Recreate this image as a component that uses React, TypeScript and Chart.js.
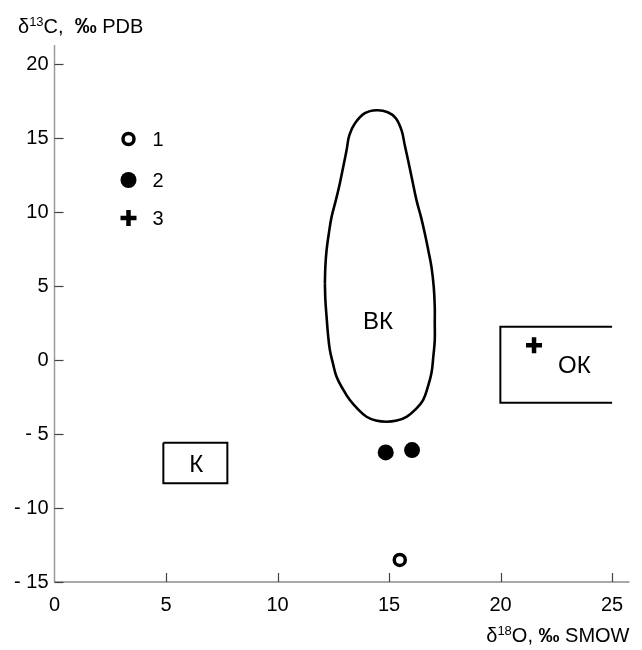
import { useEffect, useRef } from 'react';
import { Chart, registerables } from 'chart.js';

Chart.register(...registerables);

const FONT = '"Liberation Sans", Arial, sans-serif';

// Data (δ18O ‰ SMOW on x, δ13C ‰ PDB on y)
const openCircles = [{ x: 15.48, y: -13.51 }];
const filledCircles = [
  { x: 14.85, y: -6.24 },
  { x: 16.03, y: -6.08 },
];
const crosses = [{ x: 21.5, y: 1.01 }];

// Field outlines
const vkOutline = [
  { x: 12.123, y: 5.203 },
  { x: 12.145, y: 6.351 },
  { x: 12.199, y: 7.432 },
  { x: 12.302, y: 8.581 },
  { x: 12.423, y: 9.682 },
  { x: 12.615, y: 10.811 },
  { x: 12.795, y: 11.959 },
  { x: 12.951, y: 13.108 },
  { x: 13.095, y: 14.189 },
  { x: 13.22, y: 15.203 },
  { x: 13.466, y: 15.993 },
  { x: 13.914, y: 16.689 },
  { x: 14.438, y: 16.892 },
  { x: 14.944, y: 16.757 },
  { x: 15.302, y: 16.351 },
  { x: 15.558, y: 15.541 },
  { x: 15.705, y: 14.527 },
  { x: 15.853, y: 13.514 },
  { x: 16.041, y: 12.162 },
  { x: 16.229, y: 10.811 },
  { x: 16.422, y: 9.73 },
  { x: 16.601, y: 8.581 },
  { x: 16.758, y: 7.432 },
  { x: 16.901, y: 6.304 },
  { x: 17.004, y: 4.932 },
  { x: 17.049, y: 3.601 },
  { x: 17.049, y: 2.5 },
  { x: 17.049, y: 1.351 },
  { x: 16.982, y: 0.203 },
  { x: 16.901, y: -0.878 },
  { x: 16.735, y: -1.824 },
  { x: 16.525, y: -2.703 },
  { x: 16.198, y: -3.311 },
  { x: 15.782, y: -3.831 },
  { x: 15.347, y: -4.088 },
  { x: 14.886, y: -4.169 },
  { x: 14.407, y: -4.088 },
  { x: 13.99, y: -3.831 },
  { x: 13.601, y: -3.311 },
  { x: 13.242, y: -2.703 },
  { x: 12.929, y: -1.959 },
  { x: 12.647, y: -1.128 },
  { x: 12.481, y: -0.203 },
  { x: 12.347, y: 0.676 },
  { x: 12.257, y: 1.824 },
  { x: 12.199, y: 2.926 },
  { x: 12.145, y: 4.054 },
  { x: 12.123, y: 5.203 },
];
const kBox = [
  { x: 4.88, y: -5.59 },
  { x: 7.75, y: -5.59 },
  { x: 7.75, y: -8.33 },
  { x: 4.88, y: -8.33 },
  { x: 4.88, y: -5.59 },
];
const okBox = [
  { x: 25.0, y: 2.25 },
  { x: 19.99, y: 2.25 },
  { x: 19.99, y: -2.89 },
  { x: 25.0, y: -2.89 },
];
const fieldLabels = [
  { text: 'ВК', x: 14.5, y: 2.57 },
  { text: 'К', x: 6.35, y: -7.1 },
  { text: 'ОК', x: 23.31, y: -0.4 },
];

const legendLabels = ['1', '2', '3'];
const legendStyles = ['open', 'filled', 'cross'];

const X_MIN = 0;
const X_MAX = 25.78;
const Y_MIN = -15;
const Y_MAX = 21.3;
const TICK_STEP = 5;

function drawMarker(ctx: CanvasRenderingContext2D, style: string, x: number, y: number) {
  ctx.save();
  if (style === 'open') {
    ctx.beginPath();
    ctx.arc(x, y, 5.5, 0, Math.PI * 2);
    ctx.fillStyle = '#fff';
    ctx.fill();
    ctx.lineWidth = 3.5;
    ctx.strokeStyle = '#000';
    ctx.stroke();
  } else if (style === 'filled') {
    ctx.beginPath();
    ctx.arc(x, y, 8, 0, Math.PI * 2);
    ctx.fillStyle = '#000';
    ctx.fill();
  } else {
    ctx.beginPath();
    ctx.moveTo(x - 8, y);
    ctx.lineTo(x + 8, y);
    ctx.moveTo(x, y - 8);
    ctx.lineTo(x, y + 8);
    ctx.lineWidth = 4.5;
    ctx.strokeStyle = '#000';
    ctx.stroke();
  }
  ctx.restore();
}

type Part = { t: string; font: string; dy?: number };
function richWidth(ctx: CanvasRenderingContext2D, parts: Part[]) {
  let w = 0;
  for (const p of parts) {
    ctx.font = p.font;
    w += ctx.measureText(p.t).width;
  }
  return w;
}
function drawRich(ctx: CanvasRenderingContext2D, parts: Part[], x: number, baseline: number) {
  let cx = x;
  ctx.textBaseline = 'alphabetic';
  ctx.textAlign = 'left';
  ctx.fillStyle = '#000';
  for (const p of parts) {
    ctx.font = p.font;
    ctx.fillText(p.t, cx, baseline + (p.dy || 0));
    cx += ctx.measureText(p.t).width;
  }
}

const yTitle: Part[] = [
  { t: 'δ', font: `20px ${FONT}` },
  { t: '13', font: `13px ${FONT}`, dy: -7 },
  { t: 'C,  ', font: `20px ${FONT}` },
  { t: '‰', font: `bold 22px ${FONT}` },
  { t: ' PDB', font: `20px ${FONT}` },
];
const xTitle: Part[] = [
  { t: 'δ', font: `20px ${FONT}` },
  { t: '18', font: `13px ${FONT}`, dy: -7 },
  { t: 'O, ', font: `20px ${FONT}` },
  { t: '‰', font: `bold 21px ${FONT}` },
  { t: ' SMOW', font: `20px ${FONT}` },
];

const customPlugin = {
  id: 'customDraw',
  beforeDatasetsDraw(chart: any) {
    const { ctx, chartArea, scales } = chart;
    const xs = scales.x;
    const ys = scales.y;
    ctx.save();
    // y axis line
    ctx.beginPath();
    ctx.strokeStyle = '#9a9a9a';
    ctx.lineWidth = 1.5;
    ctx.moveTo(chartArea.left, chartArea.top);
    ctx.lineTo(chartArea.left, chartArea.bottom);
    ctx.stroke();
    // x axis line
    ctx.beginPath();
    ctx.strokeStyle = '#555';
    ctx.lineWidth = 1.2;
    ctx.moveTo(chartArea.left, chartArea.bottom);
    ctx.lineTo(chartArea.right, chartArea.bottom);
    ctx.stroke();
    // ticks
    ctx.strokeStyle = '#444';
    ctx.lineWidth = 1.2;
    for (const t of ys.ticks) {
      const py = Math.round(ys.getPixelForValue(t.value)) + 0.5;
      ctx.beginPath();
      ctx.moveTo(chartArea.left, py);
      ctx.lineTo(chartArea.left + 9, py);
      ctx.stroke();
    }
    for (const t of xs.ticks) {
      if (t.value === 0) continue;
      const px = Math.round(xs.getPixelForValue(t.value)) + 0.5;
      ctx.beginPath();
      ctx.moveTo(px, chartArea.bottom);
      ctx.lineTo(px, chartArea.bottom - 9);
      ctx.stroke();
    }
    // field labels
    ctx.fillStyle = '#000';
    ctx.font = `24px ${FONT}`;
    ctx.textAlign = 'center';
    ctx.textBaseline = 'middle';
    for (const l of fieldLabels) {
      ctx.fillText(l.text, xs.getPixelForValue(l.x), ys.getPixelForValue(l.y));
    }
    ctx.restore();
  },
  afterDraw(chart: any) {
    const { ctx, chartArea } = chart;
    ctx.save();
    // legend
    const lx = chartArea.left + 74;
    const ly = [chartArea.top + 94, chartArea.top + 135, chartArea.top + 173];
    legendLabels.forEach((lab, i) => {
      drawMarker(ctx, legendStyles[i], lx, ly[i]);
      ctx.fillStyle = '#000';
      ctx.font = `20px ${FONT}`;
      ctx.textAlign = 'left';
      ctx.textBaseline = 'middle';
      ctx.fillText(lab, lx + 24, ly[i] + 1);
    });
    // axis titles
    drawRich(ctx, yTitle, 18, 33);
    const w = richWidth(ctx, xTitle);
    drawRich(ctx, xTitle, chartArea.right - w, 642);
    ctx.restore();
  },
};

export default function App() {
  const ref = useRef<HTMLCanvasElement | null>(null);
  useEffect(() => {
    if (!ref.current) return;
    const outline = (data: any[], tension: number, width: number) => ({
      data,
      showLine: true,
      tension,
      borderColor: '#000',
      borderWidth: width,
      pointRadius: 0,
      fill: false,
    });
    const chart = new Chart(ref.current, {
      type: 'scatter',
      data: {
        datasets: [
          outline(vkOutline, 0.4, 2.6) as any,
          outline(kBox, 0, 2) as any,
          outline(okBox, 0, 2) as any,
          {
            data: openCircles,
            pointStyle: 'circle',
            pointRadius: 5.5,
            pointBorderWidth: 3.5,
            pointBackgroundColor: '#fff',
            pointBorderColor: '#000',
          },
          {
            data: filledCircles,
            pointStyle: 'circle',
            pointRadius: 8,
            pointBorderWidth: 0,
            pointBackgroundColor: '#000',
            pointBorderColor: '#000',
          },
          {
            data: crosses,
            pointStyle: 'cross',
            pointRadius: 8,
            pointBorderWidth: 4.5,
            pointBorderColor: '#000',
          },
        ],
      },
      options: {
        animation: false,
        responsive: true,
        maintainAspectRatio: false,
        events: [],
        layout: { padding: { top: 45, right: 12, left: 0, bottom: 0 } },
        plugins: { legend: { display: false }, tooltip: { enabled: false } },
        scales: {
          x: {
            type: 'linear',
            min: X_MIN,
            max: X_MAX,
            grid: { display: false, drawTicks: false },
            border: { display: false },
            ticks: {
              stepSize: TICK_STEP,
              includeBounds: false,
              padding: 11,
              color: '#000',
              font: { family: FONT, size: 20 },
              maxRotation: 0,
            },
            afterFit: (s: any) => {
              s.height = 68;
            },
          },
          y: {
            type: 'linear',
            min: Y_MIN,
            max: Y_MAX,
            grid: { display: false, drawTicks: false },
            border: { display: false },
            ticks: {
              stepSize: TICK_STEP,
              includeBounds: false,
              padding: 6,
              color: '#000',
              font: { family: FONT, size: 20 },
              callback: (v: any) => (Number(v) < 0 ? '- ' + Math.abs(Number(v)) : String(v)),
            },
            afterFit: (s: any) => {
              s.width = 54.5;
            },
          },
        },
      },
      plugins: [customPlugin],
    });
    return () => chart.destroy();
  }, []);
  return (
    <div style={{ position: 'absolute', left: 0, top: 0, width: 642, height: 650, background: '#fff' }}>
      <canvas ref={ref} />
    </div>
  );
}
